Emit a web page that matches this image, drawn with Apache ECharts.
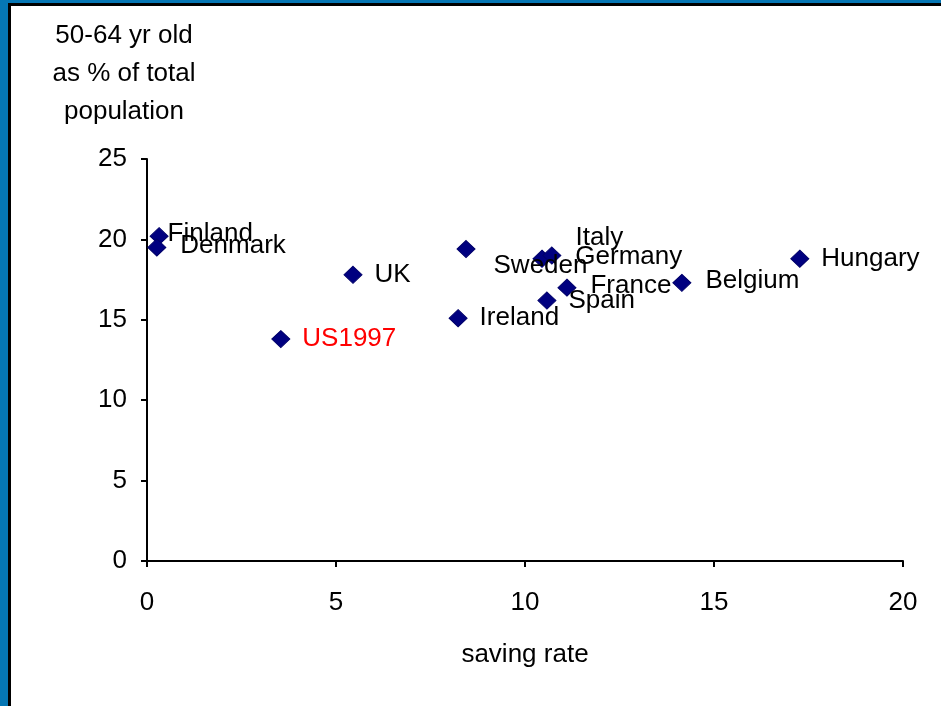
<!DOCTYPE html>
<html>
<head>
<meta charset="utf-8">
<script src="https://cdn.jsdelivr.net/npm/echarts@6/dist/echarts.min.js"></script>
<style>
  html, body { margin: 0; padding: 0; background: #fff; }
  #chart { width: 941px; height: 706px; }
</style>
</head>
<body>
<div id="chart"></div>
<script>
// countries and their values (saving rate, 50-64 yr old share)
const countries = ['Finland', 'Denmark', 'UK', 'US1997', 'Ireland', 'Italy', 'Sweden',
    'Germany', 'France', 'Spain', 'Belgium', 'Hungary'];
const savingRate = [0.32, 0.26, 5.45, 3.54, 8.23, 8.44, 10.45, 10.71, 11.11, 10.58, 14.15, 17.27];
const olderShare = [20.2, 19.5, 17.8, 13.8, 15.1, 19.4, 18.8, 19.0, 17.0, 16.2, 17.3, 18.8];
const xTicks = [0, 5, 10, 15, 20];
const yTicks = [0, 5, 10, 15, 20, 25];

// labels that were dragged around in the original
const labelShift = {
    Finland: [-13, -2],
    Denmark: [2, -2],
    Italy: [88, -11],
    Sweden: [-70, 7],
    Germany: [2, 1],
    France: [2, -2],
    Belgium: [2, -2]
};

const font = 'Arial, "Liberation Sans", sans-serif';

const points = countries.map((name, i) => {
    const item = { name: name, value: [savingRate[i], olderShare[i]] };
    item.label = { offset: labelShift[name] || [0, 0] };
    if (name === 'US1997') item.label.color = '#ff0000';
    return item;
});

const chart = echarts.init(document.getElementById('chart'));
chart.setOption({
    animation: false,
    backgroundColor: '#ffffff',
    graphic: [
        { type: 'rect', shape: { x: 0, y: 0, width: 8, height: 706 }, style: { fill: '#0576b4' } },
        { type: 'rect', shape: { x: 0, y: 0, width: 941, height: 3 }, style: { fill: '#0576b4' } },
        { type: 'rect', shape: { x: 8, y: 3, width: 3, height: 703 }, style: { fill: '#000' } },
        { type: 'rect', shape: { x: 8, y: 3, width: 933, height: 3 }, style: { fill: '#000' } }
    ],
    grid: { left: 147, right: 38, top: 159, bottom: 145 },
    xAxis: {
        type: 'value',
        min: xTicks[0],
        max: xTicks[xTicks.length - 1],
        interval: 5,
        name: 'saving rate',
        nameLocation: 'middle',
        nameGap: 81,
        nameTextStyle: { fontSize: 26, color: '#000', fontFamily: font },
        axisLine: { lineStyle: { color: '#000', width: 2 } },
        axisTick: { show: true, length: 6, lineStyle: { color: '#000', width: 2 } },
        axisLabel: { fontSize: 26, color: '#000', fontFamily: font, margin: 29 },
        splitLine: { show: false }
    },
    yAxis: {
        type: 'value',
        min: yTicks[0],
        max: yTicks[yTicks.length - 1],
        interval: 5,
        name: '50-64 yr old\nas % of total\npopulation',
        nameLocation: 'end',
        nameGap: 28,
        nameTextStyle: {
            fontSize: 26, color: '#000', fontFamily: font,
            lineHeight: 38, align: 'center', padding: [0, 46, 0, 0]
        },
        axisLine: { show: true, lineStyle: { color: '#000', width: 2 } },
        axisTick: { show: true, length: 6, lineStyle: { color: '#000', width: 2 } },
        axisLabel: { fontSize: 26, color: '#000', fontFamily: font, margin: 20 },
        splitLine: { show: false }
    },
    series: [{
        type: 'scatter',
        symbol: 'diamond',
        symbolSize: [18, 17],
        itemStyle: { color: '#000080', borderColor: '#00006a', borderWidth: 1, opacity: 1 },
        label: {
            show: true,
            position: 'right',
            distance: 12,
            formatter: '{b}',
            fontSize: 26,
            color: '#000',
            opacity: 1,
            fontFamily: font
        },
        data: points
    }]
});
</script>
</body>
</html>
